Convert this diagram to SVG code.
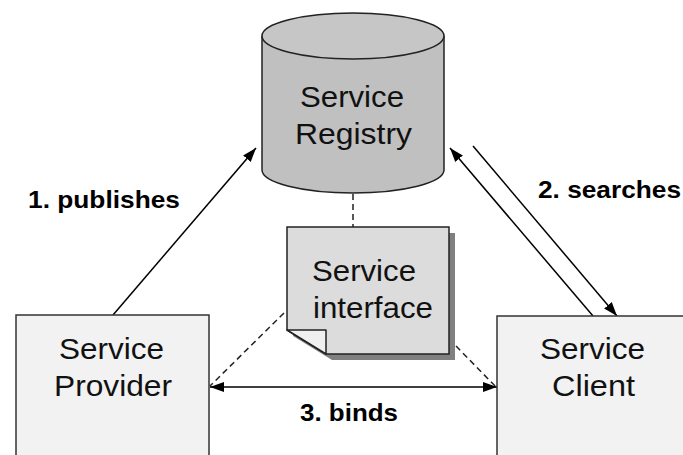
<svg xmlns="http://www.w3.org/2000/svg" width="683" height="455" viewBox="0 0 683 455">
<style>
.t{font-family:"Liberation Sans",Arial,sans-serif;font-size:30px;fill:#111;}
.b{font-family:"Liberation Sans",Arial,sans-serif;font-size:24px;font-weight:bold;fill:#000;}
.box{fill:#f2f2f2;stroke:#333;stroke-width:1.5;}
.ln{stroke:#000;stroke-width:1.5;fill:none;}
.dash{stroke:#222;stroke-width:1.5;fill:none;stroke-dasharray:6,4;}
</style>
<defs>
<marker id="ah" viewBox="0 0 14 10" refX="14" refY="5" markerWidth="14" markerHeight="10" markerUnits="userSpaceOnUse" orient="auto-start-reverse">
<path d="M0,0 L14,5 L0,10 z" fill="#000"/>
</marker>
</defs>
<rect width="683" height="455" fill="#fff"/>
<g id="connectors">
<line class="dash" x1="353" y1="194" x2="353" y2="227"/>
<line class="dash" x1="284" y1="313" x2="210" y2="386"/>
<line class="dash" x1="456" y1="346" x2="496" y2="387"/>
<line class="ln" x1="113" y1="315" x2="256" y2="148" marker-end="url(#ah)"/>
<line class="ln" x1="593" y1="316" x2="450" y2="148" marker-end="url(#ah)"/>
<line class="ln" x1="473" y1="146" x2="617" y2="316" marker-end="url(#ah)"/>
<line class="ln" x1="210" y1="387" x2="497" y2="387" marker-start="url(#ah)" marker-end="url(#ah)"/>
</g>
<g id="registry">
<path d="M262,36 L262,170 A91,23 0 0 0 444,170 L444,36" fill="#c0c0c0" stroke="#222" stroke-width="1.5"/>
<ellipse cx="353" cy="36" rx="91" ry="23" fill="#c6c6c6" stroke="#222" stroke-width="1.5"/>
<text class="t" x="300" y="107" textLength="104" lengthAdjust="spacingAndGlyphs">Service</text>
<text class="t" x="295" y="144" textLength="117" lengthAdjust="spacingAndGlyphs">Registry</text>
</g>
<g id="interface">
<path d="M293,233 L455,233 L455,360 L332,360 L293,336 z" fill="#808080"/>
<path d="M287,227 L449,227 L449,354 L326,354 L287,330 z" fill="#dcdcdc" stroke="#222" stroke-width="1.5"/>
<path d="M287,330 L326,330 L326,354 z" fill="#f0f0f0" stroke="#222" stroke-width="1.5" stroke-linejoin="round"/>
<text class="t" x="312" y="281" textLength="104" lengthAdjust="spacingAndGlyphs">Service</text>
<text class="t" x="313" y="318" textLength="120" lengthAdjust="spacingAndGlyphs">interface</text>
</g>
<g id="provider">
<rect class="box" x="16" y="315" width="193" height="150"/>
<text class="t" x="59" y="359" textLength="105" lengthAdjust="spacingAndGlyphs">Service</text>
<text class="t" x="54" y="396" textLength="118" lengthAdjust="spacingAndGlyphs">Provider</text>
</g>
<g id="client">
<rect class="box" x="497" y="316" width="200" height="150"/>
<text class="t" x="540" y="359" textLength="105" lengthAdjust="spacingAndGlyphs">Service</text>
<text class="t" x="552" y="396" textLength="83" lengthAdjust="spacingAndGlyphs">Client</text>
</g>
<g id="labels">
<text class="b" x="28" y="208" textLength="152" lengthAdjust="spacingAndGlyphs">1. publishes</text>
<text class="b" x="538" y="198" textLength="143" lengthAdjust="spacingAndGlyphs">2. searches</text>
<text class="b" x="300" y="421" textLength="98" lengthAdjust="spacingAndGlyphs">3. binds</text>
</g>
</svg>
